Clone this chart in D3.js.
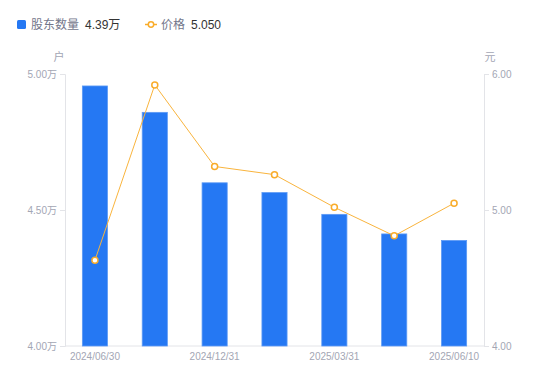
<!DOCTYPE html>
<html><head><meta charset="utf-8">
<script src="https://cdn.jsdelivr.net/npm/d3@7"></script>
<style>body{margin:0;background:#fff}svg{display:block}</style>
</head><body><div id="c"></div>
<script>
const categories = ["2024/06/30","2024/09/30","2024/12/31","2025/02/28","2025/03/31","2025/05/20","2025/06/10"];
const holders = [49560, 48590, 46000, 45640, 44840, 44120, 43880];
const prices = [4.63, 5.92, 5.32, 5.26, 5.02, 4.81, 5.05];
const leftTicks = [40000, 45000, 50000];
const rightTicks = [4, 5, 6];
const shownLabels = ["2024/06/30","2024/12/31","2025/03/31","2025/06/10"];

const FONT = "'Liberation Sans','Noto Sans CJK SC',sans-serif";
const W = 550, H = 381;
const m = {l: 65, r: 66, t: 74, b: 35};
const svg = d3.select("#c").append("svg").attr("width", W).attr("height", H)
  .style("font-family", FONT);

const x = d3.scaleBand().domain(categories).range([m.l, W - m.r]).paddingInner(0.58).paddingOuter(0.29);
const yL = d3.scaleLinear().domain([40000, 50000]).range([H - m.b, m.t]);
const yR = d3.scaleLinear().domain([4, 6]).range([H - m.b, m.t]);

const gray = "#e3e4e8", tcol = "#a3a6b4";

// axes
const axL = svg.append("g").attr("transform", `translate(${m.l},0)`)
  .call(d3.axisLeft(yL).tickValues(leftTicks).tickSize(5).tickPadding(3)
    .tickFormat(d => (d / 10000).toFixed(2) + "万"));
const axR = svg.append("g").attr("transform", `translate(${W - m.r},0)`)
  .call(d3.axisRight(yR).tickValues(rightTicks).tickSize(5).tickPadding(3)
    .tickFormat(d => d.toFixed(2)));
const axB = svg.append("g").attr("transform", `translate(0,${H - m.b})`)
  .call(d3.axisBottom(x).tickSize(0).tickPadding(7)
    .tickFormat(d => shownLabels.includes(d) ? d : ""));
[axL, axR, axB].forEach(a => {
  a.selectAll("path.domain").attr("stroke", gray);
  a.selectAll(".tick line").attr("stroke", gray);
  a.selectAll("text").attr("fill", tcol).style("font-size", "10px")
    .style("font-family", FONT);
});
axB.select("path.domain").attr("d", `M${m.l},0H${W - m.r}`);

// bars
svg.append("g").selectAll("rect").data(holders).join("rect")
  .attr("x", (d, i) => x(categories[i]))
  .attr("width", x.bandwidth())
  .attr("y", d => yL(d))
  .attr("height", d => yL(40000) - yL(d))
  .attr("fill", "#2578f3")
  .attr("stroke", "#5d9af5").attr("stroke-width", 0.8);

// line
const line = d3.line().x((d, i) => x(categories[i]) + x.bandwidth() / 2).y(d => yR(d));
svg.append("path").datum(prices).attr("d", line)
  .attr("fill", "none").attr("stroke", "#f9b43d").attr("stroke-width", 1);
svg.append("g").selectAll("circle").data(prices).join("circle")
  .attr("cx", (d, i) => x(categories[i]) + x.bandwidth() / 2)
  .attr("cy", d => yR(d)).attr("r", 3)
  .attr("fill", "#fff").attr("stroke", "#f9ac2a").attr("stroke-width", 1.5);

// axis unit labels
svg.append("text").attr("x", 59).attr("y", 61).attr("text-anchor", "middle")
  .attr("fill", tcol).style("font-size", "11px").text("户");
svg.append("text").attr("x", 490).attr("y", 61).attr("text-anchor", "middle")
  .attr("fill", tcol).style("font-size", "11px").text("元");

// legend
const lg = svg.append("g");
lg.append("rect").attr("x", 17).attr("y", 20).attr("width", 9).attr("height", 9).attr("rx", 1.5).attr("fill", "#2578f3");
lg.append("text").attr("x", 31).attr("y", 29).attr("fill", "#73768a").style("font-size", "12px").text("股东数量");
lg.append("text").attr("x", 85).attr("y", 29).attr("fill", "#333").style("font-size", "12px")
  .text((holders[holders.length - 1] / 10000).toFixed(2) + "万");
lg.append("line").attr("x1", 145).attr("x2", 157).attr("y1", 24.5).attr("y2", 24.5).attr("stroke", "#f9ac2a").attr("stroke-width", 1.5);
lg.append("circle").attr("cx", 151).attr("cy", 24.5).attr("r", 2.7).attr("fill", "#fff").attr("stroke", "#f9ac2a").attr("stroke-width", 1.5);
lg.append("text").attr("x", 161).attr("y", 29).attr("fill", "#73768a").style("font-size", "12px").text("价格");
lg.append("text").attr("x", 191).attr("y", 29).attr("fill", "#333").style("font-size", "12px")
  .text(prices[prices.length - 1].toFixed(3));
</script></body></html>
